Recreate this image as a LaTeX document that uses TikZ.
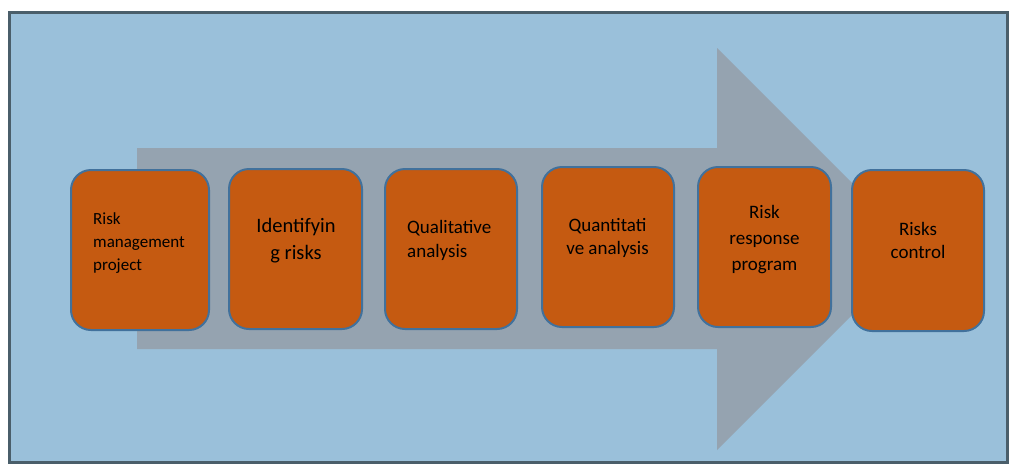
\documentclass[tikz,border=0pt]{standalone}
\usepackage{fontspec}
\setmainfont{Carlito}
\definecolor{bgblue}{RGB}{154,192,218}
\definecolor{framecol}{RGB}{74,94,106}
\definecolor{arrowgray}{RGB}{149,163,176}
\definecolor{boxfill}{RGB}{197,90,17}
\definecolor{boxline}{RGB}{65,113,156}
\newcommand{\ctext}[3]{\parbox[t]{150pt}{\centering\fontsize{#1}{#2}\selectfont #3}}
\newcommand{\ltext}[3]{\parbox[t]{150pt}{\raggedright\fontsize{#1}{#2}\selectfont #3}}
\begin{document}
\begin{tikzpicture}[x=1pt,y=-1pt,
  stepbox/.style={draw=boxline, line width=2pt, fill=boxfill, rounded corners=20pt, inner sep=0pt},
  txt/.style={inner sep=0pt, text=black}]
\useasboundingbox (0,0) rectangle (1017,475);
\fill[white] (0,0) rectangle (1017,475);
\draw[framecol, line width=3pt, fill=bgblue] (9.5,12.5) rectangle (1007.5,462.5);
\fill[arrowgray] (137,148) -- (717,148) -- (717,48) -- (918,249) -- (717,450) -- (717,349) -- (137,349) -- cycle;
\node[stepbox, minimum width=138pt, minimum height=160pt] (b1) at (140,250) {};
\node[stepbox, minimum width=133pt, minimum height=160pt] (b2) at (295.5,249) {};
\node[stepbox, minimum width=132pt, minimum height=160pt] (b3) at (451,249) {};
\node[stepbox, minimum width=132pt, minimum height=160pt] (b4) at (608,247) {};
\node[stepbox, minimum width=133pt, minimum height=160pt] (b5) at (764.5,247) {};
\node[stepbox, minimum width=132pt, minimum height=161pt] (b6) at (918,250.5) {};
\node[txt, anchor=base west] (t1) at (93,224) {\ltext{17}{23}{Risk\\management\\project}};
\node[txt, anchor=base] (t2) at (296,232) {\ctext{20.5}{27}{Identifyin\\g risks}};
\node[txt, anchor=base west] (t3) at (407,233) {\ltext{19}{24}{Qualitative\\analysis}};
\node[txt, anchor=base] (t4) at (607.5,231) {\ctext{19}{23}{Quantitati\\ve analysis}};
\node[txt, anchor=base] (t5) at (764.5,218) {\ctext{19}{26}{Risk\\response\\program}};
\node[txt, anchor=base] (t6) at (918,235) {\ctext{19}{23}{Risks\\control}};
\end{tikzpicture}
\end{document}
